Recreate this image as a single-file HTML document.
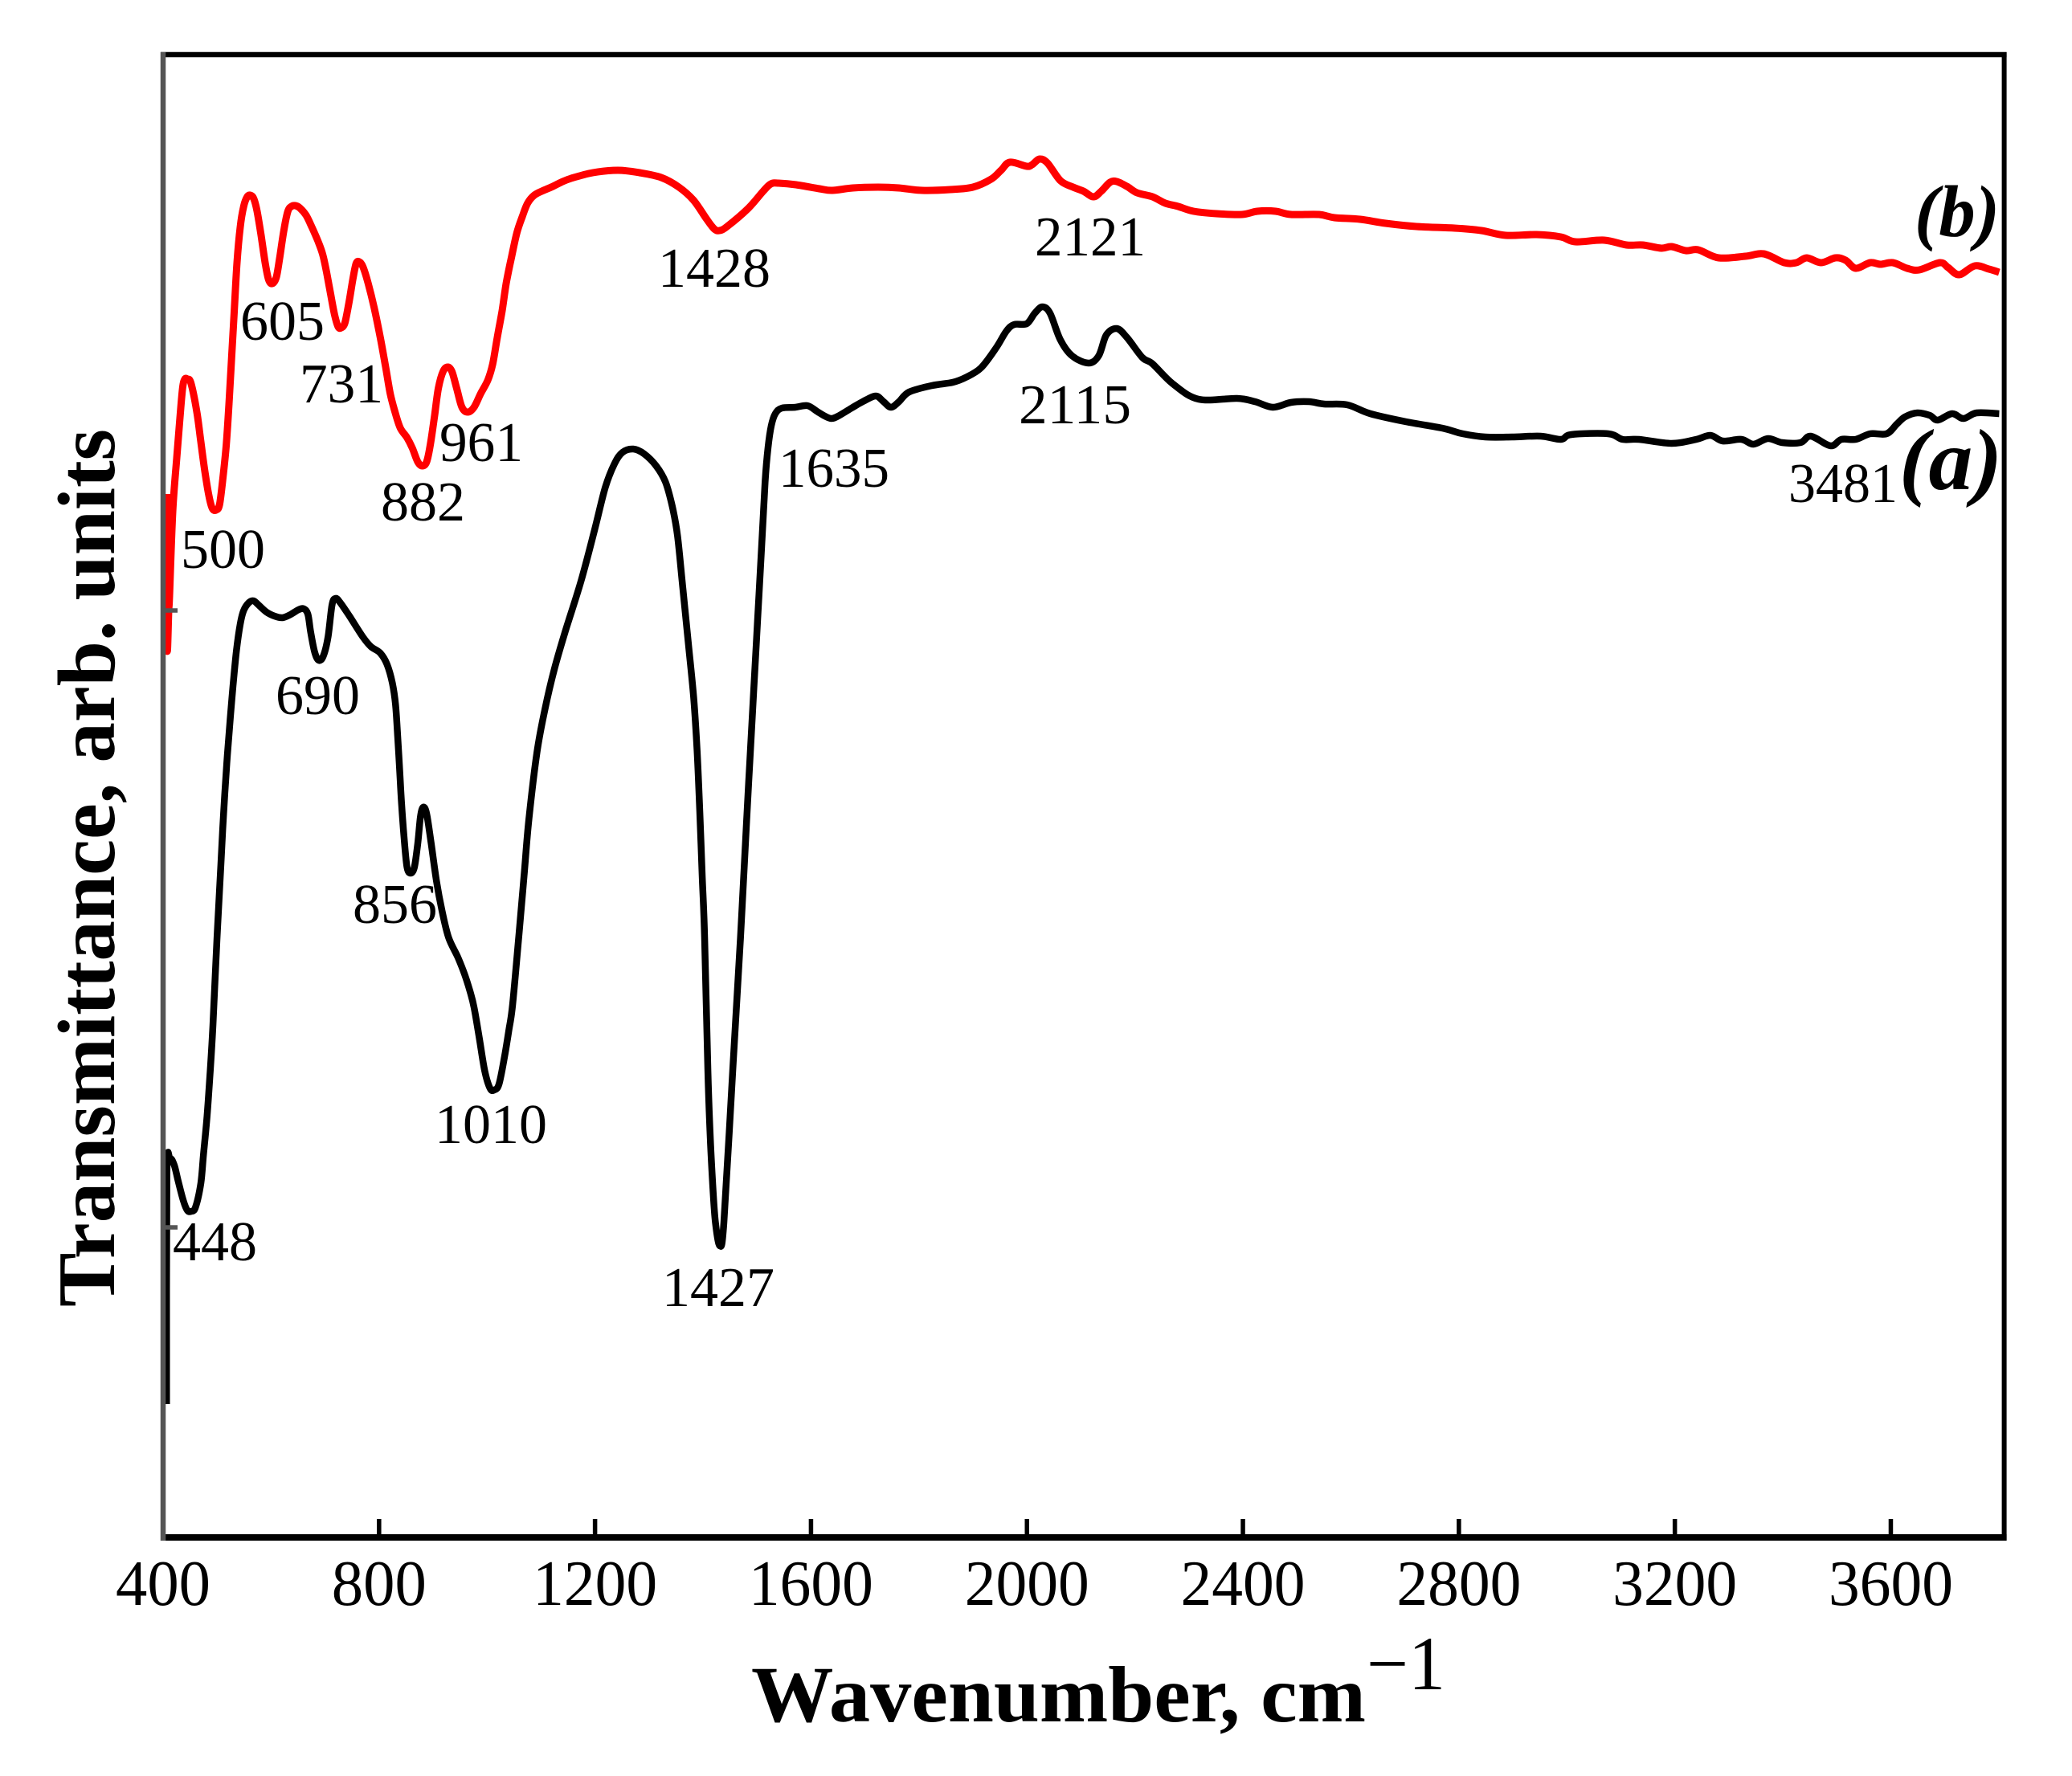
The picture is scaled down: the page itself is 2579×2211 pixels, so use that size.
<!DOCTYPE html>
<html lang="en">
<head>
<meta charset="utf-8">
<title>FTIR transmittance spectra</title>
<style>
html,body{margin:0;padding:0;background:#fff;}
svg{display:block;}
text{font-family:"Liberation Serif",serif;fill:#000;}
.peak{font-size:70px;}
</style>
</head>
<body>
<svg id="chart" xmlns="http://www.w3.org/2000/svg" width="2579" height="2211" viewBox="0 0 2579 2211">
<rect x="0" y="0" width="2579" height="2211" fill="#fff"/>
<g id="series"></g>
<g id="axes"></g>
<g id="tick-labels"></g>
<g>
<text class="peak" x="225" y="707" textLength="105" lengthAdjust="spacingAndGlyphs">500</text>
<text class="peak" x="299" y="423" textLength="105" lengthAdjust="spacingAndGlyphs">605</text>
<text class="peak" x="373" y="501" textLength="104" lengthAdjust="spacingAndGlyphs">731</text>
<text class="peak" x="474" y="648" textLength="105" lengthAdjust="spacingAndGlyphs">882</text>
<text class="peak" x="547" y="574" textLength="104" lengthAdjust="spacingAndGlyphs">961</text>
<text class="peak" x="343" y="889" textLength="105" lengthAdjust="spacingAndGlyphs">690</text>
<text class="peak" x="439" y="1149" textLength="105" lengthAdjust="spacingAndGlyphs">856</text>
<text class="peak" x="215" y="1569" textLength="105" lengthAdjust="spacingAndGlyphs">448</text>
<text class="peak" x="541" y="1423" textLength="140" lengthAdjust="spacingAndGlyphs">1010</text>
<text class="peak" x="824" y="1626" textLength="140" lengthAdjust="spacingAndGlyphs">1427</text>
<text class="peak" x="819" y="357" textLength="140" lengthAdjust="spacingAndGlyphs">1428</text>
<text class="peak" x="1288" y="318" textLength="138" lengthAdjust="spacingAndGlyphs">2121</text>
<text class="peak" x="1268" y="527" textLength="140" lengthAdjust="spacingAndGlyphs">2115</text>
<text class="peak" x="969" y="606" textLength="138" lengthAdjust="spacingAndGlyphs">1635</text>
<text class="peak" x="2226" y="625" textLength="136" lengthAdjust="spacingAndGlyphs">3481</text>
</g>
<text x="2383" y="294" font-size="91" font-weight="bold" font-style="italic" textLength="106" lengthAdjust="spacingAndGlyphs">(b)</text>
<text x="2364" y="609" font-size="108" font-weight="bold" font-style="italic" textLength="128" lengthAdjust="spacingAndGlyphs">(a)</text>
<text transform="translate(142,1627) rotate(-90)" x="0" y="0" font-size="102" font-weight="bold" textLength="1093" lengthAdjust="spacingAndGlyphs">Transmittance, arb. units</text>
<text x="935" y="2143" font-size="100" font-weight="bold" textLength="765" lengthAdjust="spacingAndGlyphs">Wavenumber, cm</text>
<text x="1701" y="2103" font-size="95" textLength="98" lengthAdjust="spacingAndGlyphs">−1</text>
</svg>
<script>
const xTicks = [800, 1200, 1600, 2000, 2400, 2800, 3200, 3600];
const xTickLabels = [400, 800, 1200, 1600, 2000, 2400, 2800, 3200, 3600];
const yTicks = [1154, 386];
const xDomain = [400, 3810];
const yDomain = [0, 1846];

const wavenumberB = [406.4,407.4,410.4,411.9,417.9,425.3,431.2,436.2,440.2,445.1,451.6,462.5,469.9,477.4,484.8,491.2,498.2,504.6,511.2,517.1,522,526.9,532,536.9,542.8,549.2,555.8,561.7,567.7,574.1,581.5,589,595.4,602.4,609.8,616.2,623.6,631.1,637.6,645.1,653.4,664.9,675.7,686.7,695.7,703.1,710.5,718,724.4,730.3,736.7,744.2,751.6,757.6,763.5,770.1,779.9,790.9,802.2,812.2,820.7,829.6,839.4,851.9,861.7,871.7,880.2,888.1,895.1,902.9,909.9,918.9,927.8,935.2,943.6,953.5,964.4,975.9,988.2,1001.6,1010.5,1019,1027.9,1035.4,1045.3,1055.2,1065.1,1075.1,1087.5,1104.9,1122.1,1137,1155.9,1196,1242.2,1282.4,1322.6,1355.3,1382.1,1405.9,1420.8,1430.7,1444.6,1482.8,1511.5,1525.5,1539.8,1572.5,1615.7,1639.5,1677.4,1724.3,1763,1805.6,1857.8,1899.9,1933.7,1952,1968.4,1999.6,2009.6,2023.4,2038,2062.1,2085.5,2104.5,2123.1,2137.7,2153.8,2166.3,2185.1,2204,2232.6,2256.3,2280,2308.5,2350.8,2398.4,2426.7,2460.3,2488.9,2540.9,2569.5,2617.1,2664.3,2721.3,2792.1,2841.4,2886.9,2943.8,2989.1,3015.9,3068.9,3110.5,3140.9,3175,3193.9,3220.5,3243.3,3281.2,3330.6,3364.7,3402.6,3425,3444.4,3470.7,3497.4,3516.3,3535.2,3561.8,3580.9,3603.7,3630.1,3652.8,3690.9,3706,3726.5,3755.4,3781.8,3800.7];
const transmittanceB = [1299,1109,1154,1172,1277,1344,1394,1431,1442,1442,1437,1401,1364,1327,1297,1281,1279,1286,1321,1361,1411,1469,1529,1587,1631,1657,1669,1671,1667,1651,1621,1587,1566,1561,1569,1594,1627,1651,1657,1658,1655,1646,1631,1614,1597,1574,1547,1521,1507,1506,1512,1537,1567,1586,1588,1582,1561,1531,1494,1457,1424,1401,1381,1369,1356,1339,1334,1339,1361,1397,1431,1452,1457,1451,1431,1407,1401,1407,1424,1441,1461,1494,1527,1561,1594,1624,1644,1661,1671,1677,1682,1687,1692,1699,1702,1699,1693,1681,1665,1642,1629,1627,1632,1654,1676,1685,1686,1684,1679,1677,1680,1681,1680,1677,1678,1681,1691,1702,1712,1707,1709,1716,1711,1689,1681,1676,1669,1676,1687,1688,1682,1674,1669,1661,1657,1651,1648,1647,1651,1651,1647,1647,1643,1641,1636,1632,1630,1627,1621,1622,1619,1613,1615,1609,1609,1605,1607,1602,1603,1593,1595,1598,1587,1587,1593,1587,1593,1590,1580,1587,1585,1587,1580,1578,1587,1581,1572,1583,1579,1575];

const wavenumberA = [406.4,407,412.9,420.4,427.8,437.6,445.1,452.5,460,469.9,474.8,481.4,487.3,492.3,499.7,507.1,512,518,524.5,529.5,535.9,542.8,549.2,559.2,567.7,576.6,591.5,606.4,621.3,636.1,651,660.9,668.3,673.3,680.8,688.2,696.6,705.5,712.9,719.5,727.8,745.2,770.1,784.9,802.2,814.7,824.5,830.5,834.5,838.5,841.9,846.9,851.9,858.3,865.3,871.7,876.6,881.7,888.1,896.5,906.4,916.3,928.7,946.1,958.5,968.4,975.9,985.8,995.7,1005.6,1013.1,1022,1032,1040.3,1047.3,1059.2,1068.6,1077.5,1092.4,1107.3,1124.7,1144.5,1174.2,1199.1,1218.9,1236.3,1251.1,1270.9,1290.9,1313.2,1330.4,1342.9,1352.8,1362.7,1372.7,1382.5,1389,1394,1398.5,1403,1409,1413.5,1418,1423,1431.2,1438.7,1455,1469.4,1480.7,1486.7,1493.7,1501.2,1508.6,1515,1520.5,1526.4,1533.9,1546.2,1571.1,1593.4,1610.8,1625.7,1638,1650.4,1675.2,1696,1719.9,1734.3,1748.1,1763,1781.8,1824,1862.4,1886.2,1914.8,1943,1962.1,1976.4,1999.6,2014.4,2028.5,2042.8,2061.8,2083.5,2113.9,2132.9,2147,2166.3,2185.1,2213.6,2232.6,2270.4,2318,2389.2,2422.2,2455.5,2488.9,2521.9,2550.5,2593.3,2635.9,2701.9,2769.3,2807.3,2848.9,2898.4,2951.3,2989.1,3008.2,3076.5,3103.1,3133.5,3194,3239.6,3265.9,3288.8,3323.1,3345.8,3372.3,3398.9,3432.6,3451.9,3488.4,3508.5,3535.2,3561.8,3592.2,3611.1,3626.3,3649,3671.9,3687,3713.5,3734.6,3759,3800.7];
const transmittanceA = [166,451,471,464,444,419,407,406,411,441,477,524,581,637,744,839,901,964,1021,1060,1104,1137,1154,1164,1166,1161,1152,1147,1145,1149,1155,1156,1149,1127,1102,1092,1097,1121,1161,1169,1164,1147,1121,1109,1101,1087,1064,1037,997,951,911,867,834,827,834,864,897,909,901,864,817,781,747,722,701,680,660,621,581,559,557,564,597,631,663,751,824,894,977,1031,1081,1127,1191,1254,1307,1337,1351,1355,1349,1334,1314,1284,1247,1181,1114,1047,981,904,824,747,581,497,439,392,363,392,581,747,892,966,1052,1143,1234,1314,1357,1384,1399,1406,1407,1409,1402,1396,1393,1396,1406,1414,1421,1414,1407,1414,1426,1434,1438,1444,1456,1481,1502,1510,1511,1524,1532,1524,1491,1471,1462,1471,1497,1505,1494,1469,1461,1436,1417,1418,1414,1407,1413,1414,1411,1410,1399,1389,1381,1374,1370,1370,1371,1367,1373,1374,1367,1367,1362,1367,1372,1365,1367,1361,1368,1363,1363,1371,1359,1367,1367,1374,1374,1386,1395,1400,1397,1391,1399,1393,1400,1399];

const plotLeft = 203, plotRight = 2494.6, plotBottom = 1914, plotTop = 68;
const SVG_NS = 'http://www.w3.org/2000/svg';
function xScale(v) { return plotLeft + (v - xDomain[0]) / (xDomain[1] - xDomain[0]) * (plotRight - plotLeft); }
function yScale(v) { return plotBottom - (v - yDomain[0]) / (yDomain[1] - yDomain[0]) * (plotBottom - plotTop); }
function smoothPath(xs, ys) {
  const pts = xs.map(function (x, i) { return [xScale(x), yScale(ys[i])]; });
  let d = 'M' + pts[0][0].toFixed(1) + ' ' + pts[0][1].toFixed(1);
  for (let i = 0; i < pts.length - 1; i++) {
    const p0 = pts[Math.max(i - 1, 0)], p1 = pts[i], p2 = pts[i + 1], p3 = pts[Math.min(i + 2, pts.length - 1)];
    const c1x = p1[0] + (p2[0] - p0[0]) / 6, c1y = p1[1] + (p2[1] - p0[1]) / 6;
    const c2x = p2[0] - (p3[0] - p1[0]) / 6, c2y = p2[1] - (p3[1] - p1[1]) / 6;
    d += 'C' + c1x.toFixed(1) + ' ' + c1y.toFixed(1) + ' ' + c2x.toFixed(1) + ' ' + c2y.toFixed(1) + ' ' + p2[0].toFixed(1) + ' ' + p2[1].toFixed(1);
  }
  return d;
}
function lineEl(x1, y1, x2, y2, color, width) {
  const el = document.createElementNS(SVG_NS, 'line');
  el.setAttribute('x1', x1);
  el.setAttribute('y1', y1);
  el.setAttribute('x2', x2);
  el.setAttribute('y2', y2);
  el.setAttribute('stroke', color);
  el.setAttribute('stroke-width', width);
  document.getElementById('axes').appendChild(el);
  return el;
}

const seriesGroup = document.getElementById('series');

const pathA = document.createElementNS(SVG_NS, 'path');
pathA.setAttribute('d', smoothPath(wavenumberA, transmittanceA));
pathA.setAttribute('fill', 'none');
pathA.setAttribute('stroke', '#000');
pathA.setAttribute('stroke-width', '8.5');
pathA.setAttribute('stroke-linejoin', 'round');


seriesGroup.appendChild(pathA);

const pathB = document.createElementNS(SVG_NS, 'path');
pathB.setAttribute('d', smoothPath(wavenumberB, transmittanceB));
pathB.setAttribute('fill', 'none');
pathB.setAttribute('stroke', '#ff0000');
pathB.setAttribute('stroke-width', '9');
pathB.setAttribute('stroke-linejoin', 'round');


seriesGroup.appendChild(pathB);

const frameTop = lineEl(plotLeft - 3, plotTop, plotRight + 3, plotTop, '#000', 6.5);



const frameRight = lineEl(plotRight, plotTop - 3, plotRight, plotBottom + 3.5, '#000', 6);



const xAxisLine = lineEl(plotLeft - 3, plotBottom, plotRight + 3, plotBottom, '#000', 8);



const yAxisLine = lineEl(plotLeft, plotTop - 3, plotLeft, plotBottom + 4, '#555', 6.5);



xTicks.forEach(function (t) {
  const tick = lineEl(xScale(t), plotBottom - 23, xScale(t), plotBottom, '#000', 5.5);
  
  
});

yTicks.forEach(function (t) {
  const tick = lineEl(plotLeft, yScale(t), plotLeft + 18, yScale(t), '#555', 5.5);
  
  
});

const tickLabelGroup = document.getElementById('tick-labels');
xTickLabels.forEach(function (t) {
  const label = document.createElementNS(SVG_NS, 'text');
  label.setAttribute('x', xScale(t));
  label.setAttribute('y', 1998);
  label.setAttribute('font-size', '80');
  label.setAttribute('text-anchor', 'middle');
  label.setAttribute('textLength', String(t).length === 3 ? 118 : 155);
  label.setAttribute('lengthAdjust', 'spacingAndGlyphs');
  
  
  label.textContent = t;
  tickLabelGroup.appendChild(label);
});
</script>
</body>
</html>
